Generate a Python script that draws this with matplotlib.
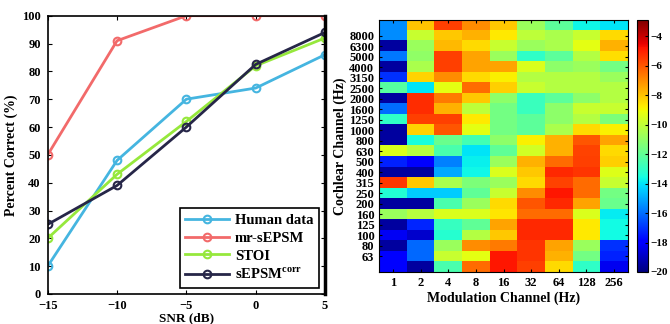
import numpy as np
import matplotlib
matplotlib.use('Agg')
from matplotlib import pyplot as plt

plt.rcParams['font.family'] = 'Liberation Serif'
plt.rcParams['font.weight'] = 'bold'
plt.rcParams['mathtext.fontset'] = 'custom'
plt.rcParams['mathtext.rm'] = 'Liberation Serif:bold'
plt.rcParams['mathtext.bf'] = 'Liberation Serif:bold'

# left panel data
snr = [-15, -10, -5, 0, 5]
human = [10, 48, 70, 74, 86]
mr_sepsm = [50, 91, 100, 100, 100]
stoi = [20, 43, 62, 82, 92]
sepsm_corr = [25, 39, 60, 82.5, 94]

# right panel data (rows top -> bottom, columns 1..256 Hz)
mod_labels = ['1', '2', '4', '8', '16', '32', '64', '128', '256']
cf_labels = ['8000', '6300', '5000', '4000', '3150', '2500', '2000', '1600',
             '1250', '1000', '800', '630', '500', '400', '315', '250', '200',
             '160', '125', '100', '80', '63']
col1 = [-15.5, -15.5, -19.5, -15.8, -19.5, -17.0, -12.2, -19.5, -16.0, -13.0, -19.5, -19.5,
        -9.5, -17.3, -19.5, -5.5, -13.3, -19.5, -10.8, -19.5, -18.2, -19.5, -17.9, -17.9]
col2 = [-8.0, -9.9, -10.8, -11.0, -10.5, -8.3, -14.0, -5.3, -5.3, -5.6, -8.3, -13.5,
        -10.2, -18.0, -19.5, -8.1, -14.4, -19.5, -10.2, -17.2, -18.8, -16.1, -16.1, -19.5]
col3 = [-5.6, -8.1, -7.8, -5.6, -5.6, -7.0, -9.3, -6.7, -7.7, -5.6, -6.0, -11.8,
        -12.5, -15.7, -15.0, -10.5, -14.4, -12.5, -9.5, -12.9, -13.2, -10.8, -9.9, -12.5]
col4 = [-7.0, -7.7, -8.4, -7.4, -7.4, -8.4, -6.4, -8.1, -10.1, -8.7, -9.3, -12.6,
        -14.0, -13.8, -13.7, -11.4, -12.0, -10.8, -9.5, -12.0, -10.3, -7.0, -9.3, -6.4]
col5 = [-8.1, -8.7, -9.9, -10.8, -7.4, -8.8, -8.2, -11.1, -11.6, -11.6, -11.6, -11.1,
        -12.0, -10.8, -9.5, -10.8, -9.9, -8.4, -8.6, -7.4, -8.1, -6.7, -4.9, -4.9]
col6 = [-10.8, -10.1, -10.8, -13.0, -9.5, -10.3, -9.9, -12.8, -12.8, -12.1, -12.1, -8.8,
        -9.7, -7.7, -8.1, -8.4, -7.0, -6.0, -6.4, -5.2, -5.2, -5.4, -5.4, -5.6]
col7 = [-12.1, -10.5, -10.5, -12.1, -11.1, -10.3, -10.3, -12.1, -11.1, -11.1, -10.5, -7.7,
        -7.7, -6.4, -5.2, -5.7, -4.9, -5.2, -6.4, -5.2, -5.2, -7.4, -7.7, -8.4]
col8 = [-13.7, -9.9, -9.3, -10.3, -10.8, -10.3, -10.3, -11.1, -9.9, -10.3, -8.4, -6.0,
        -5.7, -5.6, -5.4, -6.4, -6.4, -7.4, -9.5, -8.7, -8.7, -10.8, -11.6, -13.0]
col9 = [-14.0, -8.4, -7.7, -8.5, -11.6, -10.8, -10.3, -10.3, -9.9, -11.4, -8.8, -7.4,
        -8.4, -8.2, -9.4, -9.9, -11.6, -11.8, -13.9, -13.6, -13.6, -17.0, -17.3, -18.3]

grid = np.array([col1, col2, col3, col4, col5, col6, col7, col8, col9]).T

fig = plt.figure(figsize=(6.7, 3.24), dpi=100)

# ---- left: percent correct vs SNR
ax1 = fig.add_axes([0.0712, 0.0926, 0.414, 0.859])
ax1.plot(snr, human, '-o', color='#45B5E0', lw=2, ms=5.5, mfc='none', mew=1.5, label='Human data')
ax1.plot(snr, mr_sepsm, '-o', color='#F26A6A', lw=2, ms=5.5, mfc='none', mew=1.5, label='mr-sEPSM')
ax1.plot(snr, stoi, '-o', color='#96E83C', lw=2, ms=5.5, mfc='none', mew=1.5, label='STOI')
ax1.plot(snr, sepsm_corr, '-o', color='#262648', lw=2, ms=5.5, mfc='none', mew=1.5,
         label=r'sEPSM$^{\mathrm{corr}}$')
ax1.set_xlim(-15, 5)
ax1.set_ylim(0, 100)
ax1.set_xticks(snr)
ax1.set_yticks(range(0, 101, 10))
ax1.tick_params(direction='in', top=True, right=True, labelsize=9, length=3)
ax1.tick_params(axis='x', pad=4.5)
ax1.tick_params(axis='y', pad=5)
ax1.spines['right'].set_linewidth(2.5)
for s in ['left', 'top', 'bottom']:
    ax1.spines[s].set_linewidth(1.2)
ax1.set_xlabel('SNR (dB)', fontsize=9.5, fontweight='bold', labelpad=0)
ax1.set_ylabel('Percent Correct (%)', fontsize=10, fontweight='bold', labelpad=3)
for lab in ax1.get_xticklabels() + ax1.get_yticklabels():
    lab.set_fontweight('bold')
leg = ax1.legend(loc='lower right', fontsize=10.5, handlelength=3, borderaxespad=0.4,
                 fancybox=False, framealpha=1, edgecolor='black', labelspacing=0.3,
                 borderpad=0.4, handletextpad=0.4)
leg.get_frame().set_linewidth(1.2)
for t in leg.get_texts():
    t.set_fontweight('bold')

# ---- right: heatmap
ax2 = fig.add_axes([0.566, 0.1605, 0.371, 0.778])
im = ax2.imshow(grid, cmap='jet', vmin=-20, vmax=-2.9, aspect='auto', interpolation='nearest')
ax2.set_xticks(range(len(mod_labels)))
ax2.set_xticklabels(mod_labels)
ax2.set_yticks(range(1, len(cf_labels) + 1))
ax2.set_yticklabels(cf_labels)
ax2.tick_params(direction='in', top=True, right=True, labelsize=9, length=2.5)
for lab in ax2.get_xticklabels() + ax2.get_yticklabels():
    lab.set_fontweight('bold')
ax2.set_xlabel('Modulation Channel (Hz)', fontsize=10, fontweight='bold', labelpad=2)
ax2.set_ylabel('Cochlear Channel (Hz)', fontsize=10, fontweight='bold', labelpad=2)

cax = fig.add_axes([0.951, 0.1605, 0.0164, 0.778])
cb = fig.colorbar(im, cax=cax)
cb.set_ticks(range(-20, -3, 2))
cb.ax.tick_params(direction='in', labelsize=8, length=2.5, pad=1.5)
for lab in cb.ax.get_yticklabels():
    lab.set_fontweight('bold')

fig.savefig('out.png', dpi=100)
